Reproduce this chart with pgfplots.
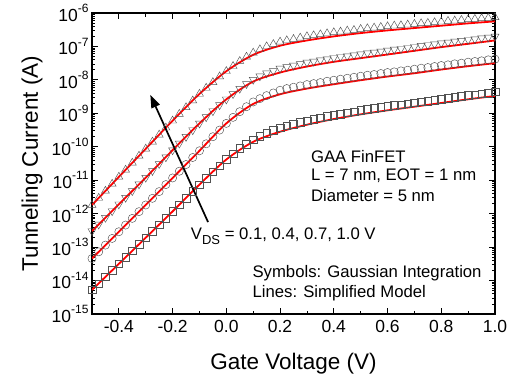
\documentclass[border=0pt]{standalone}
\usepackage{fontspec}
\setmainfont{Liberation Sans}
\usepackage{pgfplots}
\usepackage{pgfplotstable}
\pgfplotsset{compat=1.18}
\usetikzlibrary{arrows.meta}
\newcommand\tp[1]{10\raisebox{0.95ex}{\fontsize{12bp}{12bp}\selectfont #1}}

% Symbols: Gaussian integration (markers)
\pgfplotstableread{
x y
-0.500 1.82e-12
-0.475 2.95e-12
-0.450 4.79e-12
-0.425 7.76e-12
-0.400 1.26e-11
-0.375 2.04e-11
-0.350 3.31e-11
-0.325 5.37e-11
-0.300 8.71e-11
-0.275 1.41e-10
-0.250 2.29e-10
-0.225 3.72e-10
-0.200 6.03e-10
-0.175 9.55e-10
-0.150 1.51e-9
-0.125 2.40e-9
-0.100 3.80e-9
-0.075 5.75e-9
-0.050 8.51e-9
-0.025 1.26e-8
0.000 1.82e-8
0.025 2.57e-8
0.050 3.63e-8
0.075 4.90e-8
0.100 6.46e-8
0.125 8.13e-8
0.150 1.00e-7
0.175 1.17e-7
0.200 1.38e-7
0.225 1.51e-7
0.250 1.66e-7
0.275 1.82e-7
0.300 2.00e-7
0.325 2.14e-7
0.350 2.29e-7
0.375 2.45e-7
0.400 2.63e-7
0.425 2.75e-7
0.450 2.95e-7
0.475 3.09e-7
0.500 3.31e-7
0.525 3.47e-7
0.550 3.63e-7
0.575 3.80e-7
0.600 3.98e-7
0.625 4.17e-7
0.650 4.27e-7
0.675 4.47e-7
0.700 4.68e-7
0.725 4.90e-7
0.750 5.01e-7
0.775 5.25e-7
0.800 5.50e-7
0.825 5.75e-7
0.850 5.89e-7
0.875 6.17e-7
0.900 6.46e-7
0.925 6.61e-7
0.950 6.92e-7
0.975 7.08e-7
1.000 7.41e-7
}\mT
\pgfplotstableread{
x y
-0.500 3.02e-13
-0.475 4.79e-13
-0.450 7.59e-13
-0.425 1.20e-12
-0.400 1.91e-12
-0.375 3.02e-12
-0.350 4.79e-12
-0.325 7.59e-12
-0.300 1.20e-11
-0.275 1.91e-11
-0.250 3.09e-11
-0.225 4.90e-11
-0.200 7.94e-11
-0.175 1.26e-10
-0.150 2.00e-10
-0.125 3.16e-10
-0.100 5.01e-10
-0.075 7.76e-10
-0.050 1.17e-9
-0.025 1.78e-9
0.000 2.63e-9
0.025 3.80e-9
0.050 5.50e-9
0.075 7.59e-9
0.100 1.02e-8
0.125 1.29e-8
0.150 1.58e-8
0.175 1.86e-8
0.200 2.19e-8
0.225 2.45e-8
0.250 2.69e-8
0.275 3.02e-8
0.300 3.31e-8
0.325 3.55e-8
0.350 3.89e-8
0.375 4.17e-8
0.400 4.57e-8
0.425 4.90e-8
0.450 5.13e-8
0.475 5.50e-8
0.500 5.89e-8
0.525 6.31e-8
0.550 6.61e-8
0.575 7.08e-8
0.600 7.59e-8
0.625 8.13e-8
0.650 8.51e-8
0.675 9.12e-8
0.700 9.77e-8
0.725 1.05e-7
0.750 1.10e-7
0.775 1.17e-7
0.800 1.26e-7
0.825 1.32e-7
0.850 1.41e-7
0.875 1.48e-7
0.900 1.58e-7
0.925 1.66e-7
0.950 1.78e-7
0.975 1.86e-7
1.000 2.00e-7
}\mS
\pgfplotstableread{
x y
-0.500 4.57e-14
-0.475 7.24e-14
-0.450 1.15e-13
-0.425 1.82e-13
-0.400 2.88e-13
-0.375 4.57e-13
-0.350 7.24e-13
-0.325 1.15e-12
-0.300 1.82e-12
-0.275 2.88e-12
-0.250 4.57e-12
-0.225 7.41e-12
-0.200 1.17e-11
-0.175 1.86e-11
-0.150 2.95e-11
-0.125 4.79e-11
-0.100 7.59e-11
-0.075 1.23e-10
-0.050 2.00e-10
-0.025 3.16e-10
0.000 5.01e-10
0.025 7.59e-10
0.050 1.12e-9
0.075 1.58e-9
0.100 2.19e-9
0.125 2.75e-9
0.150 3.39e-9
0.175 4.07e-9
0.200 4.90e-9
0.225 5.50e-9
0.250 6.03e-9
0.275 6.61e-9
0.300 7.24e-9
0.325 7.76e-9
0.350 8.32e-9
0.375 9.12e-9
0.400 9.77e-9
0.425 1.05e-8
0.450 1.12e-8
0.475 1.20e-8
0.500 1.29e-8
0.525 1.38e-8
0.550 1.45e-8
0.575 1.55e-8
0.600 1.66e-8
0.625 1.74e-8
0.650 1.86e-8
0.675 1.95e-8
0.700 2.09e-8
0.725 2.24e-8
0.750 2.34e-8
0.775 2.51e-8
0.800 2.69e-8
0.825 2.82e-8
0.850 3.02e-8
0.875 3.16e-8
0.900 3.39e-8
0.925 3.55e-8
0.950 3.72e-8
0.975 3.98e-8
1.000 4.17e-8
}\mR
\pgfplotstableread{
x y
-0.500 5.25e-15
-0.475 8.13e-15
-0.450 1.29e-14
-0.425 2.00e-14
-0.400 3.16e-14
-0.375 4.90e-14
-0.350 7.76e-14
-0.325 1.20e-13
-0.300 1.91e-13
-0.275 3.02e-13
-0.250 4.68e-13
-0.225 7.41e-13
-0.200 1.17e-12
-0.175 1.86e-12
-0.150 2.95e-12
-0.125 4.68e-12
-0.100 7.41e-12
-0.075 1.15e-11
-0.050 1.78e-11
-0.025 2.75e-11
0.000 4.17e-11
0.025 6.17e-11
0.050 8.91e-11
0.075 1.20e-10
0.100 1.62e-10
0.125 2.04e-10
0.150 2.57e-10
0.175 3.09e-10
0.200 3.72e-10
0.225 4.27e-10
0.250 4.79e-10
0.275 5.37e-10
0.300 6.03e-10
0.325 6.61e-10
0.350 7.41e-10
0.375 8.13e-10
0.400 8.91e-10
0.425 9.55e-10
0.450 1.05e-9
0.475 1.12e-9
0.500 1.23e-9
0.525 1.32e-9
0.550 1.41e-9
0.575 1.51e-9
0.600 1.62e-9
0.625 1.74e-9
0.650 1.82e-9
0.675 1.95e-9
0.700 2.09e-9
0.725 2.24e-9
0.750 2.34e-9
0.775 2.51e-9
0.800 2.69e-9
0.825 2.88e-9
0.850 3.02e-9
0.875 3.24e-9
0.900 3.47e-9
0.925 3.63e-9
0.950 3.89e-9
0.975 4.07e-9
1.000 4.37e-9
}\mB

% Lines: simplified model
\pgfplotstableread{
x y
-0.5 1.82e-12
-0.4 1.26e-11
-0.3 8.71e-11
-0.2 6.03e-10
-0.1 3.80e-9
0.0 1.82e-8
0.1 5.62e-8
0.2 1.05e-7
0.3 1.51e-7
0.4 2.00e-7
0.5 2.51e-7
0.6 3.02e-7
0.7 3.55e-7
0.8 4.17e-7
0.9 4.90e-7
1.0 5.62e-7
}\lT
\pgfplotstableread{
x y
-0.5 3.02e-13
-0.4 1.91e-12
-0.3 1.20e-11
-0.2 7.94e-11
-0.1 5.01e-10
0.0 2.63e-9
0.1 8.91e-9
0.2 1.66e-8
0.3 2.51e-8
0.4 3.47e-8
0.5 4.47e-8
0.6 5.75e-8
0.7 7.41e-8
0.8 9.55e-8
0.9 1.20e-7
1.0 1.51e-7
}\lS
\pgfplotstableread{
x y
-0.5 4.57e-14
-0.4 2.88e-13
-0.3 1.82e-12
-0.2 1.17e-11
-0.1 7.59e-11
0.0 5.01e-10
0.1 1.91e-9
0.2 3.72e-9
0.3 5.50e-9
0.4 7.41e-9
0.5 9.77e-9
0.6 1.26e-8
0.7 1.58e-8
0.8 2.04e-8
0.9 2.57e-8
1.0 3.16e-8
}\lR
\pgfplotstableread{
x y
-0.5 5.25e-15
-0.4 3.16e-14
-0.3 1.91e-13
-0.2 1.17e-12
-0.1 7.41e-12
0.0 4.17e-11
0.1 1.41e-10
0.2 2.82e-10
0.3 4.57e-10
0.4 6.76e-10
0.5 9.33e-10
0.6 1.23e-9
0.7 1.58e-9
0.8 2.04e-9
0.9 2.63e-9
1.0 3.31e-9
}\lB

\begin{document}
\begin{tikzpicture}
\begin{axis}[
  scale only axis, width=403bp, height=301bp,
  xmin=-0.5, xmax=1.0, ymode=log, ymin=1e-15, ymax=1e-6,
  xtick={-0.4,-0.2,0,0.2,0.4,0.6,0.8,1.0},
  xticklabels={-0.4,-0.2,0.0,0.2,0.4,0.6,0.8,1.0},
  minor xtick={-0.5,-0.3,-0.1,0.1,0.3,0.5,0.7,0.9},
  ytick={1e-15,1e-14,1e-13,1e-12,1e-11,1e-10,1e-9,1e-8,1e-7,1e-6},
  yticklabels={\tp{-15},\tp{-14},\tp{-13},\tp{-12},\tp{-11},\tp{-10},\tp{-9},\tp{-8},\tp{-7},\tp{-6}},
  minor ytick={2e-15,3e-15,4e-15,5e-15,6e-15,7e-15,8e-15,9e-15,
    2e-14,3e-14,4e-14,5e-14,6e-14,7e-14,8e-14,9e-14,
    2e-13,3e-13,4e-13,5e-13,6e-13,7e-13,8e-13,9e-13,
    2e-12,3e-12,4e-12,5e-12,6e-12,7e-12,8e-12,9e-12,
    2e-11,3e-11,4e-11,5e-11,6e-11,7e-11,8e-11,9e-11,
    2e-10,3e-10,4e-10,5e-10,6e-10,7e-10,8e-10,9e-10,
    2e-9,3e-9,4e-9,5e-9,6e-9,7e-9,8e-9,9e-9,
    2e-8,3e-8,4e-8,5e-8,6e-8,7e-8,8e-8,9e-8,
    2e-7,3e-7,4e-7,5e-7,6e-7,7e-7,8e-7,9e-7},
  tick align=inside,
  major tick length=6bp, minor tick length=3.5bp,
  every tick/.style={black, line width=0.8bp},
  axis line style={black, line width=1.1bp},
  ticklabel style={font=\fontsize{17.5bp}{20bp}\selectfont},
  xticklabel style={yshift=-3bp},
  xlabel={Gate Voltage (V)},
  ylabel={Tunneling Current (A)},
  label style={font=\fontsize{22.5bp}{26bp}\selectfont},
  xlabel style={at={(axis description cs:0.5,-0.186)}, anchor=base},
  ylabel style={at={(axis description cs:-0.134,0.5)}, anchor=base},
  clip=true,
]
\coordinate (sw) at (rel axis cs:0,0);
\addplot[only marks, mark=square, mark size=3.8bp, mark options={draw=black!68, line width=0.45bp}] table {\mB};
\addplot[only marks, mark=o, mark size=4.1bp, mark options={draw=black!68, line width=0.45bp}] table {\mR};
\addplot[only marks, mark=triangle, mark size=4.6bp, mark options={draw=black!68, line width=0.45bp, rotate=180}] table {\mS};
\addplot[only marks, mark=triangle, mark size=4.6bp, mark options={draw=black!68, line width=0.45bp}] table {\mT};
\addplot[red, line width=1.8bp, smooth] table {\lB};
\addplot[red, line width=1.8bp, smooth] table {\lR};
\addplot[red, line width=1.8bp, smooth] table {\lS};
\addplot[red, line width=1.8bp, smooth] table {\lT};
\draw[black, line width=1.7bp, -{Triangle[length=13bp,width=9bp]}] (axis cs:-0.068,5.6e-13) -- (axis cs:-0.283,3.6e-9);
\begin{scope}[every node/.style={font=\fontsize{16.7bp}{19bp}\selectfont, inner sep=0pt, anchor=base west}]
\node at (rel axis cs:0.543,0.503) {GAA FinFET};
\node at (rel axis cs:0.543,0.445) {L = 7 nm, EOT = 1 nm};
\node at (rel axis cs:0.543,0.373) {Diameter = 5 nm};
\node at (rel axis cs:0.245,0.246) {V\raisebox{-0.5ex}{\fontsize{13bp}{13bp}\selectfont DS} = 0.1, 0.4, 0.7, 1.0 V};
\node at (rel axis cs:0.398,0.122) {Symbols: Gaussian Integration};
\node at (rel axis cs:0.398,0.0555) {Lines: Simplified Model};
\end{scope}
\end{axis}
\pgfresetboundingbox
\path[use as bounding box] (sw) ++(-92bp,-66bp) rectangle ++(518bp,380bp);
\end{tikzpicture}
\end{document}
